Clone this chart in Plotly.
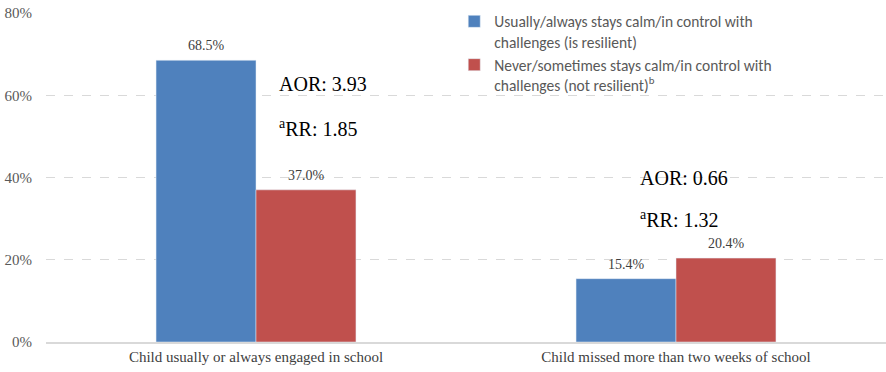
import plotly.graph_objects as go

categories = ["Child usually or always engaged in school",
              "Child missed more than two weeks of school"]
resilient = [0.685, 0.154]
not_resilient = [0.370, 0.204]
series_names = ["Usually/always stays calm/in control with<br>challenges (is resilient)",
                "Never/sometimes stays calm/in control with<br>challenges (not resilient)<sup>b</sup>"]
aor = ["AOR: 3.93", "AOR: 0.66"]
arr = ["<sup>a</sup>RR: 1.85", "<sup>a</sup>RR: 1.32"]
tick_vals = [0, 0.2, 0.4, 0.6, 0.8]

blue = "#4f81bd"
red = "#c0504d"
serif = "Liberation Serif"
sans = "Carlito, Lato, Liberation Sans, sans-serif"

fig = go.Figure()
offsets = [-0.5, 0.5]
for k, (vals, name, col) in enumerate([(resilient, series_names[0], blue),
                                       (not_resilient, series_names[1], red)]):
    fig.add_trace(go.Bar(x=categories, y=vals, name=name, marker_color=col))
    # value labels above each bar
    for cat, v in zip(categories, vals):
        fig.add_annotation(
            x=cat, y=v, xref="x", yref="y", text=f"{v*100:.1f}%",
            showarrow=False, yanchor="bottom", yshift=5,
            xshift=offsets[k] * 100,
            font=dict(family=serif, size=14, color="#404040"),
        )

# odds / risk ratio notes
ann_pos = [(0.275, 0.627, 0.52), (0.705, 0.40, 0.30)]
for i, (px, ya, yr) in enumerate(ann_pos):
    fig.add_annotation(x=px, y=ya, xref="paper", yref="y", text=aor[i],
                       showarrow=False, xanchor="left",
                       font=dict(family=serif, size=20, color="#000"))
    fig.add_annotation(x=px, y=yr, xref="paper", yref="y", text=arr[i],
                       showarrow=False, xanchor="left",
                       font=dict(family=serif, size=20, color="#000"))

fig.update_layout(
    width=886, height=372,
    margin=dict(l=46, r=0, t=13, b=30),
    plot_bgcolor="white", paper_bgcolor="white",
    barmode="group", bargap=0.524, bargroupgap=0,
    showlegend=True,
    legend=dict(x=0.486, y=1.025, xanchor="left", yanchor="top",
                valign="top",
                font=dict(family=sans, size=15.5, color="#595959"),
                bgcolor="rgba(255,255,255,0)", tracegroupgap=2,
                itemwidth=30),
    xaxis=dict(tickfont=dict(family=serif, size=15, color="#404040"),
               showline=True, linecolor="#d9d9d9", linewidth=2,
               ticks="", showgrid=False),
    yaxis=dict(range=[0, 0.8], tickvals=tick_vals, tickformat=".0%",
               tickfont=dict(family=serif, size=15, color="#595959"),
               showgrid=True, gridcolor="#d9d9d9", griddash="dash",
               gridwidth=1, zeroline=False, ticklabelstandoff=13),
)

fig.write_html("out.html")
